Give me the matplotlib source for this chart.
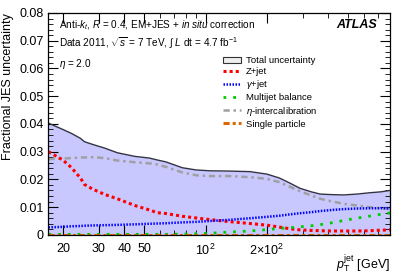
import numpy as np
import matplotlib
matplotlib.use('Agg')
from matplotlib import pyplot as plt
from matplotlib.ticker import FixedLocator, NullFormatter, MultipleLocator
from matplotlib.patches import Patch
from matplotlib.lines import Line2D

plt.rcParams['font.family'] = ['Liberation Sans', 'DejaVu Sans']
plt.rcParams['mathtext.fontset'] = 'custom'
plt.rcParams['mathtext.rm'] = 'Liberation Sans'
plt.rcParams['mathtext.it'] = 'Liberation Sans:italic'

# jet pT grid [GeV]
pt = [17, 20, 22, 24.4, 25.5, 28, 32, 37, 45, 53, 58, 64, 77, 90, 105, 130,
      165, 200, 230, 260, 290, 330, 365, 420, 475, 550, 640, 720, 800]

total = [0.0403, 0.0380, 0.0366, 0.0348, 0.0336, 0.0326, 0.0313, 0.0296, 0.0283,
         0.0277, 0.0270, 0.0263, 0.0242, 0.0234, 0.0231, 0.0230, 0.0228, 0.0219,
         0.0205, 0.0186, 0.0168, 0.0155, 0.0147, 0.0145, 0.0144, 0.0147, 0.0152,
         0.0155, 0.0160]
zjet = [0.0300, 0.0270, 0.0243, 0.0205, 0.0182, 0.0165, 0.0146, 0.0130, 0.0106,
        0.0090, 0.0080, 0.0077, 0.0067, 0.0061, 0.0055, 0.0048, 0.0041, 0.0035,
        0.0028, 0.0022, 0.0018, 0.0016, 0.0015, 0.0014, 0.0014, 0.0014, 0.0015,
        0.0017, 0.0018]
gjet = [0.0027, 0.0029, 0.0031, 0.0032, 0.0033, 0.0034, 0.0035, 0.0036, 0.0038,
        0.0040, 0.0041, 0.0042, 0.0045, 0.0047, 0.0050, 0.0054, 0.0060, 0.0065,
        0.0069, 0.0074, 0.0078, 0.0082, 0.0086, 0.0090, 0.0093, 0.0095, 0.0096,
        0.0096, 0.0096]
multijet = [0.0002, 0.0002, 0.0002, 0.0002, 0.0002, 0.0002, 0.0002, 0.0002, 0.0002,
            0.0002, 0.0002, 0.0002, 0.0003, 0.0004, 0.0006, 0.0010, 0.0014, 0.0019,
            0.0023, 0.0026, 0.0029, 0.0033, 0.0037, 0.0044, 0.0052, 0.0060, 0.0068,
            0.0074, 0.0079]
etaic = [0.0273, 0.0275, 0.0277, 0.0279, 0.0279, 0.0280, 0.0277, 0.0268, 0.0262,
         0.0258, 0.0254, 0.0245, 0.0225, 0.0215, 0.0212, 0.0212, 0.0208, 0.0202,
         0.0190, 0.0173, 0.0157, 0.0142, 0.0130, 0.0120, 0.0112, 0.0106, 0.0100,
         0.0096, 0.0093]
single = [0.0] * len(pt)

xticks = [20, 30, 40, 50, 100, 200]
xticklabels = ['20', '30', '40', '50', r'$10^{2}$', r'$2\!\times\!10^{2}$']
yticks = [0, 0.01, 0.02, 0.03, 0.04, 0.05, 0.06, 0.07, 0.08]
yticklabels = ['0', '0.01', '0.02', '0.03', '0.04', '0.05', '0.06', '0.07', '0.08']

fig = plt.figure(figsize=(4.07, 2.76), dpi=100)
ax = fig.add_axes([0.119, 0.149, 0.839, 0.804])

ax.fill_between(pt, 0, total, color='#c8c8ff', lw=0)
ax.plot(pt, total, color='#333344', lw=1.0)
ax.plot(pt, etaic, color='#a0a0a0', lw=1.8, ls=(0, (2.5, 1.5, 1, 1.5)))
ax.plot(pt, zjet, color='#ff0000', lw=2.2, ls=(0, (1, 1)))
ax.plot(pt, gjet, color='#0000ff', lw=1.8, ls=(0, (0.6, 0.6)))
ax.plot(pt, multijet, color='#00cc00', lw=2.0, ls=(0, (1, 2.5)))
ax.plot(pt, single, color='#dd6600', lw=2.2, ls=(0, (2, 1, 1, 1)))

ax.set_xscale('log')
ax.set_xlim(17, 800)
ax.set_ylim(0, 0.08)
ax.xaxis.set_major_locator(FixedLocator(xticks))
ax.set_xticklabels(xticklabels)
ax.xaxis.set_minor_formatter(NullFormatter())
ax.set_yticks(yticks)
ax.set_yticklabels(yticklabels)
ax.yaxis.set_minor_locator(MultipleLocator(0.002))
ax.tick_params(which='both', direction='in', top=True, right=True, labelsize=9)
ax.tick_params(which='major', length=7, width=0.8)
ax.tick_params(which='minor', length=3.5, width=0.6)
ax.tick_params(axis='x', pad=6)
for s in ax.spines.values():
    s.set_linewidth(0.9)

ax.set_ylabel('Fractional JES uncertainty', fontsize=9, loc='top')
ax.set_xlabel(r'$p_{\mathrm{T}}^{\mathrm{jet}}$ [GeV]', fontsize=9)
ax.xaxis.set_label_coords(1.0, -0.085)
ax.xaxis.label.set_horizontalalignment('right')

ax.text(0.03, 0.946, r'Anti-$k_{t}$, $R$ = 0.4, EM+JES + $in\ situ$ correction',
        transform=ax.transAxes, fontsize=7.2, va='center')
ax.text(0.03, 0.866, r'Data 2011, $\sqrt{s}$ = 7 TeV, $\int$ $L$ dt = 4.7 fb$^{-1}$',
        transform=ax.transAxes, fontsize=7.2, va='center')
ax.text(0.03, 0.77, r'$\eta$ = 2.0', transform=ax.transAxes, fontsize=7.2, va='center')
ax.text(0.962, 0.946, 'ATLAS', transform=ax.transAxes, fontsize=9, ha='right',
        va='center', fontweight='bold', fontstyle='italic')

handles = [
    Patch(facecolor='#eeeeee', edgecolor='#333333', lw=0.8, label='Total uncertainty'),
    Line2D([], [], color='#ff0000', lw=2.2, ls=(0, (1, 1)), label='Z+jet'),
    Line2D([], [], color='#0000ff', lw=1.8, ls=(0, (0.6, 0.6)), label=r'$\gamma$+jet'),
    Line2D([], [], color='#00cc00', lw=2.0, ls=(0, (1, 2.5)), label='Multijet balance'),
    Line2D([], [], color='#a0a0a0', lw=1.8, ls=(0, (2.5, 1.5, 1, 1.5)), label=r'$\eta$-intercalibration'),
    Line2D([], [], color='#dd6600', lw=2.2, ls=(0, (2, 1, 1, 1)), label='Single particle'),
]
ax.legend(handles=handles, loc='upper left', bbox_to_anchor=(0.51, 0.805), fontsize=6.8,
          frameon=False, handlelength=2.0, handletextpad=0.5, labelspacing=0.22,
          borderaxespad=0, borderpad=0)

fig.savefig('out.png', dpi=100)
